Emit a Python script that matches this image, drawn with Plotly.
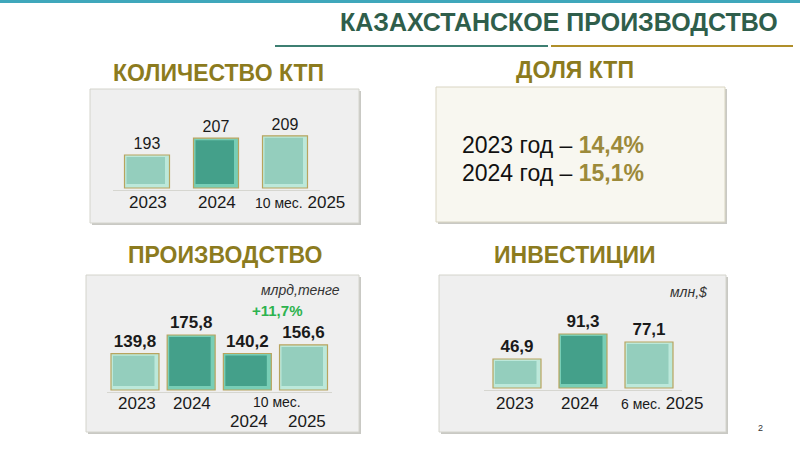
import plotly.graph_objects as go

# ---------------- data ----------------
ktp_cats = ["2023", "2024", "2025"]
ktp_values = [193, 207, 209]
ktp_ticklabels = ["2023", "2024", "<span style='font-size:14px'>10 мес.</span> 2025"]

prod_cats = ["2023", "2024", "2024 (10 мес.)", "2025 (10 мес.)"]
prod_values = [139.8, 175.8, 140.2, 156.6]
prod_growth = "+11,7%"
prod_unit = "млрд,тенге"

inv_cats = ["2023", "2024", "2025"]
inv_values = [46.9, 91.3, 77.1]
inv_ticklabels = ["2023", "2024", "<span style='font-size:14px'>6 мес.</span> 2025"]
inv_unit = "млн,$"

share_years = ["2023", "2024"]
share_values = [14.4, 15.1]

FONT = "Liberation Sans, Arial, sans-serif"
GOLD = "#8C7B1E"
W, H = 800, 450


def X(px):
    return px / W


def Y(py):
    return 1 - py / H


fig = go.Figure()
shapes = []
annotations = []

LIGHT = ("#94CEBD", "#BCE8DA")
DARK = ("#44A08A", "#78CEB6")


def add_bars(cats, values, styles, base, k, spacing, width_px, xa, ya, fmt, bold):
    """base: value at the baseline, k: px per unit, spacing: px per category"""
    w = width_px / spacing
    labels = [("<b>%s</b>" % fmt(v)) if bold else fmt(v) for v in values]
    fig.add_trace(go.Bar(
        x=cats, y=[v - base for v in values], base=base, width=w,
        marker=dict(color=[s[1] for s in styles], line=dict(color="#B8A45E", width=1.2)),
        text=labels, textposition="outside", cliponaxis=False,
        textfont=dict(family=FONT, size=17 if bold else 16, color="#1A1A1A"),
        xaxis=xa, yaxis=ya, showlegend=False, hoverinfo="skip"))
    # inner face (bevel effect)
    l, r, t, b = 2, 4.5, 2, 4
    fig.add_trace(go.Bar(
        x=cats, y=[v - base - (t + b) / k for v in values], base=base + b / k,
        width=(width_px - l - r) / spacing, offset=-w / 2 + l / spacing,
        marker=dict(color=[s[0] for s in styles], line=dict(width=0)),
        xaxis=xa, yaxis=ya, showlegend=False, hoverinfo="skip"))


def box(x0, y0, x1, y1, fill, line):
    shapes.append(dict(type="rect", xref="paper", yref="paper", x0=X(x0 + 2), x1=X(x1 + 2),
                       y0=Y(y1 + 2), y1=Y(y0 + 2), fillcolor="#C9C9C4", line=dict(width=0), layer="below"))
    shapes.append(dict(type="rect", xref="paper", yref="paper", x0=X(x0), x1=X(x1),
                       y0=Y(y1), y1=Y(y0), fillcolor=fill, line=dict(color=line, width=1), layer="below"))


def txt(x, y, s, size, color="#1A1A1A", xref="paper", xanchor="center", xshift=0, italic=False):
    if italic:
        s = "<i>%s</i>" % s
    annotations.append(dict(x=x if xref != "paper" else X(x), y=Y(y), xref=xref, yref="paper", text=s,
                            showarrow=False, xanchor=xanchor, yanchor="middle", xshift=xshift,
                            font=dict(family=FONT, size=size, color=color)))


# ---------------- header ----------------
shapes.append(dict(type="line", xref="paper", yref="paper", x0=0, x1=1, y0=Y(1.5), y1=Y(1.5),
                   line=dict(color="#3FA7BB", width=3)))
shapes.append(dict(type="line", xref="paper", yref="paper", x0=X(275), x1=X(548), y0=Y(46), y1=Y(46),
                   line=dict(color="#3E7F72", width=2)))
shapes.append(dict(type="line", xref="paper", yref="paper", x0=X(551), x1=X(793), y0=Y(46), y1=Y(46),
                   line=dict(color="#B08F2A", width=2)))
txt(559, 22, "<b>КАЗАХСТАНСКОЕ ПРОИЗВОДСТВО</b>", 25, "#2F5E4B")
txt(760, 428, "2", 9, "#333333")

# ---------------- panel boxes ----------------
box(90, 89, 359, 223, "#EFEFEF", "#D4D4CC")
box(436, 87, 725, 222, "#F8F7F0", "#D9D5C2")
box(86, 275, 359, 432, "#EFEFEF", "#D4D4CC")
box(439, 275, 726, 432, "#EFEFEF", "#D4D4CC")

txt(218, 73, "<b>КОЛИЧЕСТВО КТП</b>", 23, GOLD)
txt(575, 70, "<b>ДОЛЯ КТП</b>", 23, GOLD)
txt(225, 255, "<b>ПРОИЗВОДСТВО</b>", 23, GOLD)
txt(575, 255, "<b>ИНВЕСТИЦИИ</b>", 23, GOLD)

# ---------------- panel 1: количество КТП ----------------
b1, k1 = 165.5, 1.2
add_bars(ktp_cats, ktp_values, [LIGHT, DARK, LIGHT], b1, k1, 69, 45, "x", "y",
         lambda v: "%d" % v, False)
for i, lab in enumerate(ktp_ticklabels):
    txt(i, 202, lab, 17, xref="x", xshift=(15 if i == 2 else 1))

# ---------------- panel 2: доля КТП ----------------
for i, (yr, v) in enumerate(zip(share_years, share_values)):
    s = ("%.1f" % v).replace(".", ",")
    txt(460, 145 + 28 * i, "%s год – <b><span style='color:#9C8A3A'>%s%%</span></b>" % (yr, s),
        23, "#111111", xanchor="left")

# ---------------- panel 3: производство ----------------
b3, k3 = 70, 0.52
add_bars(prod_cats, prod_values, [LIGHT, DARK, DARK, LIGHT], b3, k3, 56.2, 48, "x2", "y2",
         lambda v: ("%.1f" % v).replace(".", ","), True)
txt(0, 403, "2023", 17, xref="x2", xshift=2)
txt(1, 403, "2024", 17, xref="x2", xshift=1)
txt(2.5, 402, "10 мес.", 14, xref="x2", xshift=2)
txt(2, 421, "2024", 17, xref="x2", xshift=2)
txt(3, 421, "2025", 17, xref="x2", xshift=3)
txt(300, 290, prod_unit, 14, "#333333", italic=True)
txt(277, 310, "<b>%s</b>" % prod_growth, 15, "#2DB34E")

# ---------------- panel 4: инвестиции ----------------
b4, k4 = -4.6, 0.563
add_bars(inv_cats, inv_values, [LIGHT, DARK, LIGHT], b4, k4, 66, 48, "x3", "y3",
         lambda v: ("%.1f" % v).replace(".", ","), True)
for i, lab in enumerate(inv_ticklabels):
    txt(i, 403, lab, 17, xref="x3", xshift=[-2, -3, 13][i])
txt(688, 292, inv_unit, 14, "#333333", italic=True)

# ---------------- axes ----------------
def xax(d0, d1, anchor, n):
    return dict(domain=[X(d0), X(d1)], range=[-0.5, n - 0.5], anchor=anchor, showgrid=False,
                zeroline=False, showticklabels=False, ticks="", showline=True,
                linecolor="#D6D6D0", linewidth=1, fixedrange=True)


def yax(py0, py1, base, k, anchor):
    r0 = base - 2 / k
    return dict(domain=[Y(py0), Y(py1)], range=[r0, r0 + (py0 - py1) / k], anchor=anchor,
                showgrid=False, zeroline=False, showticklabels=False, ticks="", showline=False,
                fixedrange=True)


fig.update_layout(
    width=W, height=H, margin=dict(l=0, r=0, t=0, b=0),
    paper_bgcolor="white", plot_bgcolor="rgba(0,0,0,0)",
    barmode="overlay", showlegend=False,
    xaxis=xax(112.5, 319.5, "y", 3), yaxis=yax(190, 95, b1, k1, "x"),
    xaxis2=xax(106.9, 331.6, "y2", 4), yaxis2=yax(392, 300, b3, k3, "x2"),
    xaxis3=xax(484, 682, "y3", 3), yaxis3=yax(390, 300, b4, k4, "x3"),
    shapes=shapes, annotations=annotations,
    font=dict(family=FONT),
)

fig.write_html("out.html")
